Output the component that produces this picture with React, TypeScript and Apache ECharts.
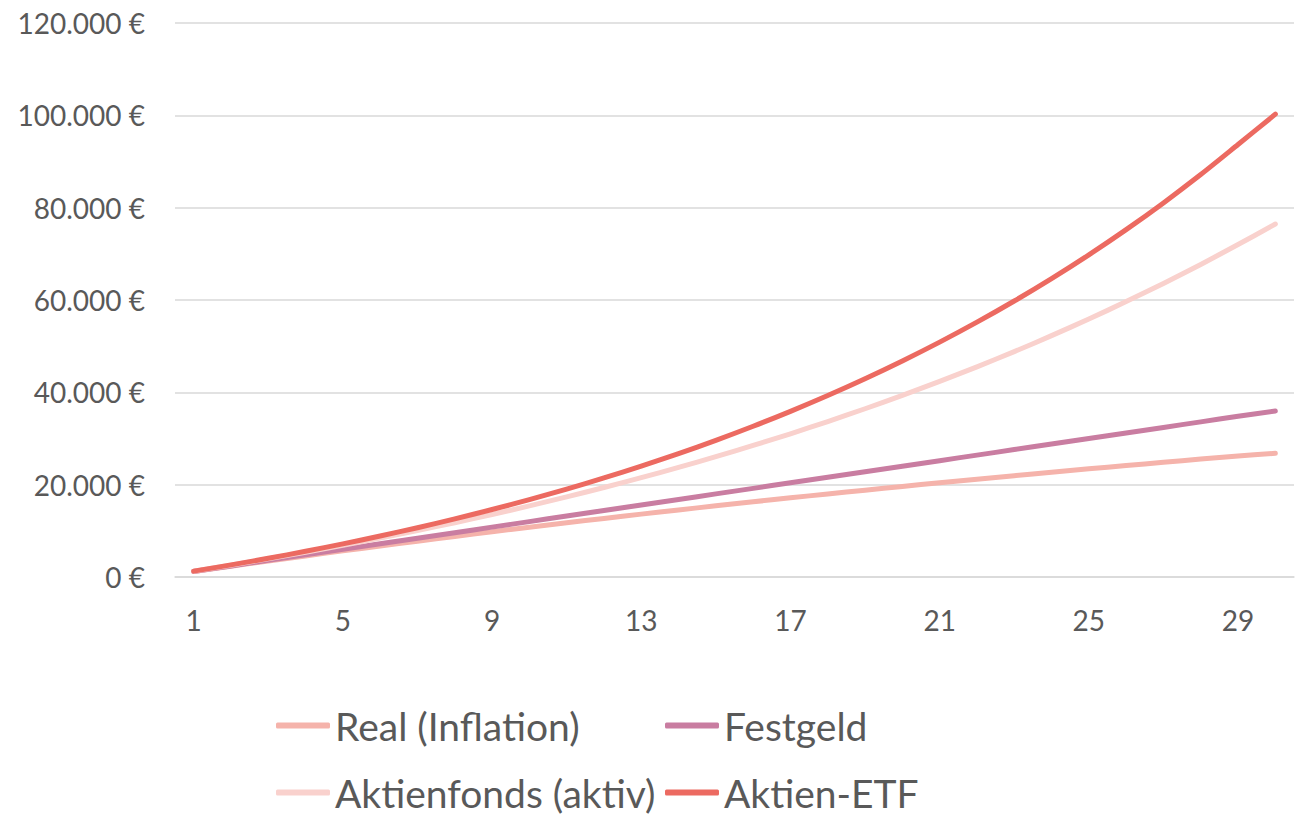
import React, { useEffect, useRef } from "react";
import * as echarts from "echarts";

const years = Array.from({ length: 30 }, (_, i) => String(i + 1));

const realInflation = [
  1176, 2330, 3461, 4569, 5656, 6722, 7766, 8791, 9795, 10779,
  11744, 12690, 13618, 14528, 15419, 16293, 17150, 17990, 18814, 19622,
  20413, 21190, 21951, 22697, 23428, 24145, 24848, 25538, 26213, 26800,
];

const festgeld = [
  1200, 2400, 3600, 4800, 6000, 7200, 8400, 9600, 10800, 12000,
  13200, 14400, 15600, 16800, 18000, 19200, 20400, 21600, 22800, 24000,
  25200, 26400, 27600, 28800, 30000, 31200, 32400, 33600, 34800, 35950,
];

const aktienfonds = [
  1254, 2564, 3934, 5365, 6860, 8423, 10056, 11763, 13546, 15409,
  17357, 19392, 21519, 23741, 26063, 28490, 31026, 33676, 36446, 39340,
  42364, 45524, 48827, 52278, 55885, 59654, 63592, 67708, 72008, 76450,
];

const aktienEtf = [
  1272, 2620, 4050, 5564, 7170, 8873, 10677, 12590, 14617, 16766,
  19044, 21459, 24018, 26731, 29607, 32655, 35887, 39312, 42943, 46791,
  50871, 55195, 59779, 64637, 69788, 75247, 81034, 87168, 93670, 100250,
];

const seriesNames = ["Real (Inflation)", "Festgeld", "Aktienfonds (aktiv)", "Aktien-ETF"];
const seriesColors = ["#F5B3AB", "#C97DA1", "#F9D1CD", "#EC6A61"];
const seriesData = [realInflation, festgeld, aktienfonds, aktienEtf];

// legend slots: [left, top]
const legendSlots: [number, number][] = [
  [276, 706],
  [665, 706],
  [276, 773],
  [665, 773],
];

const FONT = "Lato";
const TEXT = "#595959";

function fmtEuro(v: number): string {
  const s = String(Math.round(v)).replace(/\B(?=(\d{3})+(?!\d))/g, ".");
  return s + " €";
}

export default function App() {
  const ref = useRef<HTMLDivElement>(null);

  useEffect(() => {
    if (!ref.current) return;
    const chart = echarts.init(ref.current, undefined, { renderer: "svg" });
    chart.setOption({
      animation: false,
      backgroundColor: "#ffffff",
      grid: { left: 175, right: 12, top: 23, bottom: 237, containLabel: false },
      legend: seriesNames.map((name, i) => ({
        left: legendSlots[i][0],
        top: legendSlots[i][1],
        padding: 0,
        itemWidth: 54,
        itemHeight: 6,
        icon: "roundRect",
        data: [name],
        textStyle: { fontFamily: FONT, fontSize: 39, lineHeight: 38, color: TEXT },
      })),
      xAxis: {
        type: "category",
        data: years,
        boundaryGap: true,
        axisLine: { show: true, lineStyle: { color: "#D9D9D9", width: 1.5 } },
        axisTick: { show: false },
        axisLabel: {
          interval: 3,
          margin: 29,
          fontFamily: FONT,
          fontSize: 28,
          color: TEXT,
        },
        splitLine: { show: false },
      },
      yAxis: {
        type: "value",
        min: 0,
        max: 120000,
        interval: 20000,
        axisLine: { show: false },
        axisTick: { show: false },
        axisLabel: {
          margin: 30,
          fontFamily: FONT,
          fontSize: 28,
          color: TEXT,
          formatter: (v: number) => fmtEuro(v),
        },
        splitLine: { show: true, lineStyle: { color: "#D9D9D9", width: 1.5 } },
      },
      series: seriesNames.map((name, i) => ({
        name,
        type: "line",
        data: seriesData[i],
        showSymbol: false,
        symbol: "none",
        smooth: 0.3,
        color: seriesColors[i],
        lineStyle: { color: seriesColors[i], width: 5, cap: "round", join: "round" },
        itemStyle: { color: seriesColors[i] },
        z: 2 + i,
      })),
    });
    return () => chart.dispose();
  }, []);

  return (
    <div
      ref={ref}
      style={{ position: "fixed", left: 0, top: 0, width: 1306, height: 814, background: "#fff" }}
    />
  );
}
